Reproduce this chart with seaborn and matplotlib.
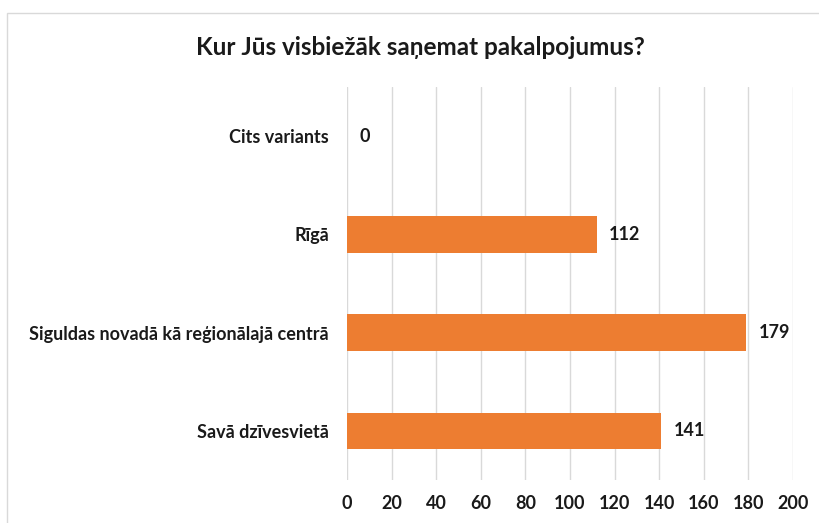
import matplotlib
matplotlib.use('Agg')
import matplotlib.pyplot as plt
import matplotlib.patches as mpatches
import seaborn as sns
import pandas as pd

categories = ["Cits variants", "Rīgā", "Siguldas novadā kā reģionālajā centrā", "Savā dzīvesvietā"]
values = [0, 112, 179, 141]
x_ticks = list(range(0, 201, 20))
title = "Kur Jūs visbiežāk saņemat pakalpojumus?"

sns.set_style("white")
plt.rcParams['font.family'] = ['Lato', 'DejaVu Sans']
plt.rcParams['font.weight'] = 'bold'

df = pd.DataFrame({"category": categories, "value": values})

fig = plt.figure(figsize=(8.19, 5.23), dpi=100)
ax = fig.add_axes([0.4237, 0.0822, 0.5446, 0.7515])

sns.barplot(data=df, y="category", x="value", orient="h", color="#ED7D31",
            width=0.37, saturation=1, linewidth=0, ax=ax, zorder=3)

ax.set_xlim(0, 200)
ax.set_ylim(3.5, -0.5)
ax.set_xticks(x_ticks)
ax.grid(axis='x', color='#D9D9D9', linewidth=1, zorder=0)
ax.set_axisbelow(True)
for s in ax.spines.values():
    s.set_visible(False)
ax.set_xlabel("")
ax.set_ylabel("")
ax.tick_params(axis='both', length=0, labelsize=13, colors='#1a1a1a')
ax.tick_params(axis='y', pad=13)
ax.tick_params(axis='x', pad=11)
for lab in ax.get_xticklabels() + ax.get_yticklabels():
    lab.set_fontweight('bold')

for i, v in enumerate(values):
    ax.annotate(str(v), xy=(v, i), xytext=(9, 0), textcoords='offset points',
                ha='left', va='center', fontsize=13, fontweight='bold', color='#1a1a1a')

fig.text(0.513, 0.91, title, ha='center', va='center', fontsize=17.5,
         fontweight='bold', color='#1a1a1a')

# chart frame like the spreadsheet chart area
frame = mpatches.Rectangle((0.008, -0.1), 1.2, 1.075, transform=fig.transFigure,
                           fill=False, edgecolor='#D9D9D9', linewidth=1)
fig.add_artist(frame)

fig.savefig("out.png", dpi=100)
